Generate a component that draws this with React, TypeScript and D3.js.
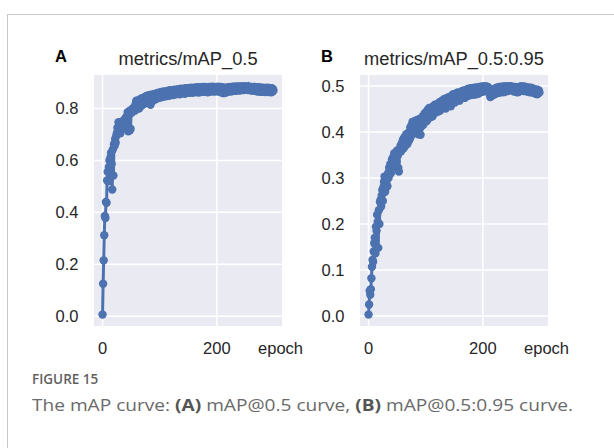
import React from "react";
import * as d3 from "d3";

const mapA: number[] = [
  0.006, 0.125, 0.215, 0.312, 0.386, 0.378, 0.44, 0.437, 0.523, 0.556,
  0.52, 0.575, 0.6, 0.548, 0.612, 0.63, 0.586, 0.488, 0.642, 0.542,
  0.662, 0.655, 0.682, 0.668, 0.694, 0.705, 0.726, 0.712, 0.747, 0.736,
  0.72, 0.704, 0.742, 0.748, 0.73, 0.722, 0.752, 0.728, 0.746, 0.758,
  0.762, 0.742, 0.768, 0.772, 0.786, 0.712, 0.776, 0.79, 0.716, 0.722,
  0.782, 0.796, 0.786, 0.792, 0.802, 0.796, 0.806, 0.792, 0.818, 0.83,
  0.805, 0.828, 0.812, 0.832, 0.8, 0.83, 0.815, 0.838, 0.81, 0.826,
  0.84, 0.816, 0.834, 0.842, 0.82, 0.845, 0.826, 0.848, 0.822, 0.838,
  0.85, 0.828, 0.842, 0.852, 0.814, 0.846, 0.832, 0.854, 0.83, 0.848,
  0.836, 0.856, 0.834, 0.85, 0.856, 0.838, 0.86, 0.84, 0.857, 0.845,
  0.862, 0.842, 0.856, 0.864, 0.844, 0.86, 0.848, 0.866, 0.846, 0.86,
  0.85, 0.866, 0.848, 0.864, 0.852, 0.868, 0.849, 0.863, 0.87, 0.852,
  0.866, 0.854, 0.87, 0.852, 0.868, 0.856, 0.872, 0.854, 0.869, 0.858,
  0.871, 0.857, 0.874, 0.86, 0.872, 0.855, 0.87, 0.876, 0.858, 0.872,
  0.86, 0.874, 0.862, 0.877, 0.857, 0.872, 0.878, 0.862, 0.874, 0.86,
  0.877, 0.863, 0.879, 0.861, 0.876, 0.864, 0.88, 0.86, 0.877, 0.865,
  0.879, 0.862, 0.877, 0.881, 0.863, 0.878, 0.865, 0.882, 0.861, 0.877,
  0.865, 0.881, 0.863, 0.879, 0.866, 0.883, 0.864, 0.879, 0.867, 0.883,
  0.865, 0.88, 0.867, 0.882, 0.862, 0.879, 0.866, 0.883, 0.865, 0.88,
  0.881, 0.866, 0.884, 0.868, 0.88, 0.865, 0.883, 0.868, 0.881, 0.866,
  0.882, 0.867, 0.884, 0.869, 0.865, 0.881, 0.867, 0.883, 0.861, 0.879,
  0.865, 0.881, 0.859, 0.877, 0.863, 0.88, 0.861, 0.878, 0.864, 0.881,
  0.866, 0.882, 0.867, 0.88, 0.865, 0.883, 0.869, 0.881, 0.867, 0.884,
  0.869, 0.884, 0.868, 0.882, 0.87, 0.885, 0.871, 0.883, 0.869, 0.884,
  0.871, 0.885, 0.87, 0.884, 0.872, 0.883, 0.885, 0.871, 0.884, 0.885,
  0.873, 0.884, 0.875, 0.88, 0.885, 0.871, 0.884, 0.872, 0.879, 0.883,
  0.869, 0.882, 0.871, 0.877, 0.882, 0.869, 0.883, 0.868, 0.881, 0.866,
  0.88, 0.867, 0.882, 0.865, 0.879, 0.866, 0.881, 0.864, 0.878, 0.866,
  0.88, 0.864, 0.877, 0.865, 0.879, 0.863, 0.877, 0.865, 0.88, 0.864,
  0.877, 0.863, 0.879, 0.865, 0.876, 0.862, 0.878, 0.864, 0.875, 0.869,
];

const mapB: number[] = [
  0.003, 0.025, 0.055, 0.046, 0.058, 0.082, 0.107, 0.122, 0.118, 0.14,
  0.158, 0.17, 0.136, 0.194, 0.185, 0.22, 0.205, 0.148, 0.23, 0.2,
  0.248, 0.252, 0.238, 0.262, 0.274, 0.25, 0.28, 0.292, 0.303, 0.27,
  0.298, 0.29, 0.305, 0.282, 0.31, 0.3, 0.322, 0.316, 0.33, 0.31,
  0.326, 0.34, 0.322, 0.345, 0.33, 0.354, 0.342, 0.336, 0.35, 0.335,
  0.36, 0.348, 0.322, 0.314, 0.356, 0.362, 0.37, 0.358, 0.375, 0.365,
  0.382, 0.364, 0.387, 0.368, 0.39, 0.372, 0.395, 0.376, 0.374, 0.397,
  0.38, 0.4, 0.384, 0.41, 0.39, 0.414, 0.396, 0.422, 0.402, 0.418,
  0.404, 0.424, 0.408, 0.422, 0.4, 0.426, 0.406, 0.395, 0.419, 0.428,
  0.408, 0.394, 0.414, 0.43, 0.414, 0.434, 0.416, 0.432, 0.44, 0.422,
  0.436, 0.444, 0.424, 0.442, 0.449, 0.43, 0.452, 0.436, 0.432, 0.452,
  0.438, 0.454, 0.434, 0.45, 0.456, 0.44, 0.459, 0.443, 0.457, 0.446,
  0.46, 0.444, 0.462, 0.448, 0.464, 0.446, 0.466, 0.451, 0.464, 0.468,
  0.454, 0.47, 0.456, 0.472, 0.458, 0.451, 0.469, 0.474, 0.458, 0.472,
  0.46, 0.476, 0.462, 0.474, 0.456, 0.478, 0.464, 0.476, 0.482, 0.466,
  0.479, 0.464, 0.482, 0.468, 0.484, 0.47, 0.486, 0.472, 0.483, 0.468,
  0.484, 0.472, 0.487, 0.474, 0.489, 0.475, 0.486, 0.49, 0.474, 0.488,
  0.476, 0.491, 0.478, 0.493, 0.48, 0.494, 0.479, 0.492, 0.481, 0.495,
  0.482, 0.495, 0.484, 0.494, 0.481, 0.496, 0.485, 0.495, 0.482, 0.497,
  0.486, 0.496, 0.483, 0.495, 0.498, 0.486, 0.497, 0.487, 0.499, 0.489,
  0.497, 0.488, 0.499, 0.49, 0.499, 0.491, 0.499, 0.492, 0.489, 0.498,
  0.49, 0.486, 0.482, 0.476, 0.484, 0.478, 0.489, 0.486, 0.48, 0.493,
  0.482, 0.494, 0.483, 0.495, 0.484, 0.497, 0.486, 0.496, 0.485, 0.498,
  0.487, 0.498, 0.488, 0.497, 0.486, 0.499, 0.489, 0.498, 0.487, 0.499,
  0.49, 0.499, 0.491, 0.498, 0.489, 0.499, 0.492, 0.499, 0.499, 0.493,
  0.499, 0.491, 0.498, 0.489, 0.497, 0.488, 0.498, 0.49, 0.497, 0.487,
  0.496, 0.486, 0.497, 0.488, 0.498, 0.489, 0.499, 0.49, 0.499, 0.491,
  0.498, 0.489, 0.499, 0.491, 0.498, 0.49, 0.497, 0.488, 0.497, 0.489,
  0.496, 0.487, 0.495, 0.486, 0.496, 0.488, 0.495, 0.486, 0.494, 0.485,
  0.493, 0.484, 0.492, 0.483, 0.492, 0.482, 0.491, 0.484, 0.49, 0.486,
];

const ticksA: number[] = [0, 0.2, 0.4, 0.6, 0.8];
const ticksB: number[] = [0, 0.1, 0.2, 0.3, 0.4, 0.5];
const xTicks: number[] = [0, 200];
const titles: string[] = ["metrics/mAP_0.5", "metrics/mAP_0.5:0.95"];
const letters: string[] = ["A", "B"];

const BLUE = "#4c72b0";
const FONT = "'Liberation Sans', Arial, sans-serif";

type PanelProps = {
  data: number[];
  yTicks: number[];
  left: number;
  right: number;
  title: string;
  letter: string;
};

function Panel({ data, yTicks, left, right, title, letter }: PanelProps) {
  const top = 75;
  const bottom = 326;
  const n = data.length;
  const xm = (n - 1) * 0.05;
  const x = d3.scaleLinear().domain([-xm, n - 1 + xm]).range([left, right]);
  const [lo, hi] = d3.extent(data) as [number, number];
  const ym = (hi - lo) * 0.05;
  const y = d3.scaleLinear().domain([lo - ym, hi + ym]).range([bottom, top]);
  const line = d3
    .line<number>()
    .x((_, i) => x(i))
    .y((d) => y(d));
  return (
    <g>
      <rect x={left} y={top} width={right - left} height={bottom - top} fill="#eaeaf2" />
      {yTicks.map((t) => (
        <line key={"gy" + t} x1={left} x2={right} y1={y(t)} y2={y(t)} stroke="#fff" strokeWidth={1.5} />
      ))}
      {xTicks.map((t) => (
        <line key={"gx" + t} x1={x(t)} x2={x(t)} y1={top} y2={bottom} stroke="#fff" strokeWidth={1.5} />
      ))}
      <path d={line(data) || ""} fill="none" stroke={BLUE} strokeWidth={3} />
      {data.map((d, i) => (
        <circle key={i} cx={x(i)} cy={y(d)} r={4.2} fill={BLUE} />
      ))}
      {yTicks.map((t) => (
        <text
          key={"ty" + t}
          x={left - 15.5}
          y={y(t)}
          dy="0.35em"
          textAnchor="end"
          fontFamily={FONT}
          fontSize={16.5}
          fill="#262626"
        >
          {t.toFixed(1)}
        </text>
      ))}
      {xTicks.map((t) => (
        <text
          key={"tx" + t}
          x={x(t)}
          y={354}
          textAnchor="middle"
          fontFamily={FONT}
          fontSize={16.5}
          fill="#262626"
        >
          {t}
        </text>
      ))}
      <text x={right + 21} y={354} textAnchor="end" fontFamily={FONT} fontSize={16.5} fill="#262626">
        epoch
      </text>
      <text x={(left + right) / 2} y={65} textAnchor="middle" fontFamily={FONT} fontSize={18.3} fill="#262626">
        {title}
      </text>
      <text x={left - 39} y={62} fontFamily={FONT} fontSize={16.5} fontWeight="bold" fill="#000">
        {letter}
      </text>
    </g>
  );
}

export default function App() {
  const capFont = "'Open Sans', 'Noto Sans', sans-serif";
  return (
    <svg
      width={614}
      height={448}
      style={{ position: "absolute", left: 0, top: 0, background: "#fff" }}
    >
      <line x1={7} x2={614} y1={14.5} y2={14.5} stroke="#c8c8c8" strokeWidth={1} />
      <line x1={7.5} x2={7.5} y1={14} y2={448} stroke="#c8c8c8" strokeWidth={1} />
      <Panel data={mapA} yTicks={ticksA} left={94} right={282} title={titles[0]} letter={letters[0]} />
      <Panel data={mapB} yTicks={ticksB} left={360} right={548} title={titles[1]} letter={letters[1]} />
      <text x={32} y={384} fontFamily={capFont} fontSize={13.5} fontWeight={600} fill="#5f5f5f">
        FIGURE 15
      </text>
      <text x={32} y={411} fontFamily={capFont} fontSize={16.8} fill="#6a6a6a" textLength={541} lengthAdjust="spacingAndGlyphs">
        The mAP curve: <tspan fontWeight="bold" fill="#555">(A)</tspan> mAP@0.5 curve,{" "}
        <tspan fontWeight="bold" fill="#555">(B)</tspan> mAP@0.5:0.95 curve.
      </text>
    </svg>
  );
}
